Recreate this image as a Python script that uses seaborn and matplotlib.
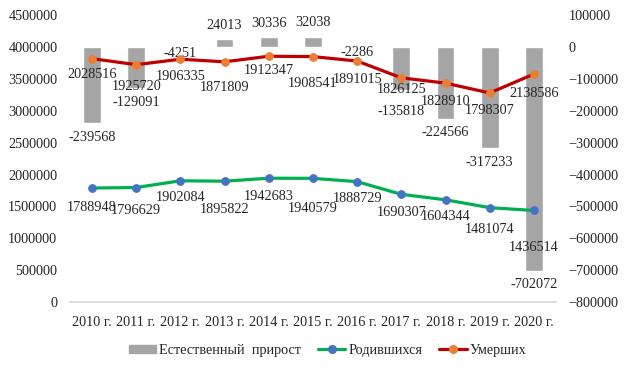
import numpy as np
import matplotlib
matplotlib.use('Agg')
import matplotlib.pyplot as plt
import seaborn as sns
from matplotlib.patches import Patch
from matplotlib.lines import Line2D

# Data
years = ['2010 г.', '2011 г.', '2012 г.', '2013 г.', '2014 г.', '2015 г.',
         '2016 г.', '2017 г.', '2018 г.', '2019 г.', '2020 г.']
births = [1788948, 1796629, 1902084, 1895822, 1942683, 1940579,
          1888729, 1690307, 1604344, 1481074, 1436514]
deaths = [2028516, 1925720, 1906335, 1871809, 1912347, 1908541,
          1891015, 1826125, 1828910, 1798307, 2138586]
natural = [-239568, -129091, -4251, 24013, 30336, 32038,
           -2286, -135818, -224566, -317233, -702072]

# label offsets (px below the point), as placed in the original
births_dy = [19, 23, 17, 28, 18, 30, 17, 18, 17, 22, 37]
deaths_dy = [16, 22, 17, 26, 14, 27, 18, 12, 18, 18, 19]
natural_dy = [14, 14, 5, -14, -14, -14, 5, 21, 14, 14, 14]

sns.set_theme(style='white')
plt.rcParams['font.family'] = ['Liberation Serif', 'DejaVu Serif']
fs = 10.3
PX = 0.72  # points per pixel at dpi 100

GRAY, GREEN, BLUE, RED, ORANGE = '#A5A5A5', '#00B050', '#4472C4', '#C00000', '#ED7D31'

fig = plt.figure(figsize=(6.24, 3.68), dpi=100)
ax = fig.add_axes([0.112, 0.179, 0.779, 0.78])   # bars, right-hand scale
ax2 = ax.twinx()                                  # lines, left-hand scale

x = np.arange(len(years))
sns.barplot(x=years, y=natural, color=GRAY, width=0.4, saturation=1, ax=ax)
ax.set_ylim(-800000, 100000)
ax.set_yticks(np.arange(-800000, 100001, 100000))
ax.yaxis.tick_right()
ax.yaxis.set_label_position('right')
for i, v in enumerate(natural):
    ax.annotate(str(v), (i, v), xytext=(0, -natural_dy[i] * PX), textcoords='offset points',
                ha='center', va='center', fontsize=fs)

# Excel-style stacked lines: deaths drawn on top of births
stacked = np.array(births) + np.array(deaths)
sns.lineplot(x=x, y=births, color=GREEN, lw=2.3, marker='o', markersize=5.5,
             markerfacecolor=BLUE, markeredgecolor=BLUE, ax=ax2)
sns.lineplot(x=x, y=stacked, color=RED, lw=2.3, marker='o', markersize=5.5,
             markerfacecolor=ORANGE, markeredgecolor=ORANGE, ax=ax2)
ax2.set_ylim(0, 4500000)
ax2.set_yticks(np.arange(0, 4500001, 500000))
ax2.ticklabel_format(axis='y', style='plain', useOffset=False)
ax2.yaxis.tick_left()
ax2.yaxis.set_label_position('left')
for i in range(len(years)):
    ax2.annotate(str(births[i]), (i, births[i]), xytext=(0, -births_dy[i] * PX),
                 textcoords='offset points', ha='center', va='center', fontsize=fs)
    ax2.annotate(str(deaths[i]), (i, stacked[i]), xytext=(0, -deaths_dy[i] * PX),
                 textcoords='offset points', ha='center', va='center', fontsize=fs)

for a in (ax, ax2):
    for s in a.spines.values():
        s.set_visible(False)
    a.tick_params(axis='both', length=0, labelsize=fs)
    a.grid(False)
    a.set_xlim(-0.5, len(years) - 0.5)
ax2.spines['bottom'].set_visible(True)
ax2.spines['bottom'].set_color('#D9D9D9')
ax.tick_params(axis='y', pad=9)
ax2.tick_params(axis='y', pad=9)
ax.set_xticks(x)
ax.set_xticklabels(years, fontsize=fs)
ax.tick_params(axis='x', pad=10)

handles = [Patch(color=GRAY),
           Line2D([], [], color=GREEN, lw=2.3, marker='o', markersize=5.5,
                  markerfacecolor=BLUE, markeredgecolor=BLUE),
           Line2D([], [], color=RED, lw=2.3, marker='o', markersize=5.5,
                  markerfacecolor=ORANGE, markeredgecolor=ORANGE)]
fig.legend(handles, ['Естественный  прирост', 'Родившихся', 'Умерших'],
           loc='center', bbox_to_anchor=(0.525, 0.048), ncol=3, frameon=False,
           fontsize=fs, handlelength=1.9, handleheight=0.5, columnspacing=1.2,
           handletextpad=0.2)

fig.savefig('out.png', dpi=100)
